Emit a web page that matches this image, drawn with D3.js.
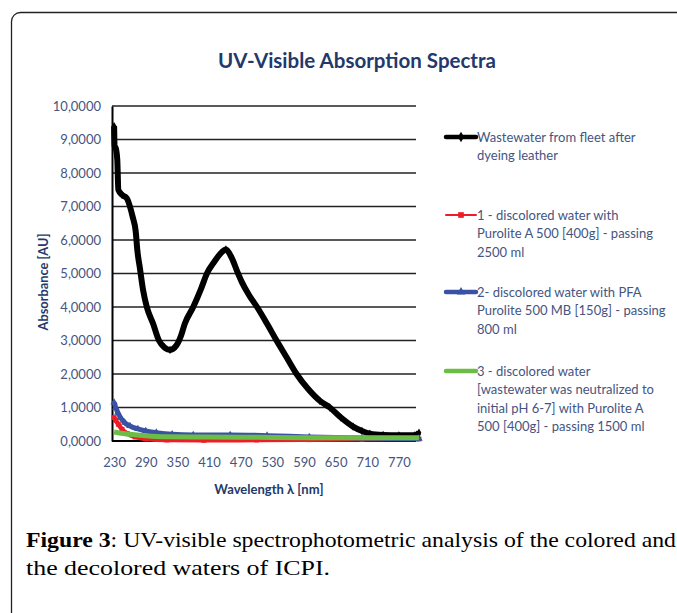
<!DOCTYPE html>
<html>
<head>
<meta charset="utf-8">
<script src="https://cdn.jsdelivr.net/npm/d3@7"></script>
<style>
  body { margin: 0; background: #fff; }
</style>
</head>
<body>
<div id="chart"></div>
<script>
// Chart data (wavelength in nm, absorbance in AU)
var blackNm  = [230, 231, 233, 236, 238, 245, 254, 260, 265, 271, 274, 279, 285, 292, 304, 315, 325, 336, 348, 357, 364, 380, 395, 406, 420, 432, 442, 452, 465, 472, 486, 501, 520, 538, 557, 576, 598, 620, 639, 660, 683, 700, 715, 740, 770, 800, 808];
var blackAbs = [9.40, 8.80, 8.75, 8.40, 7.50, 7.35, 7.25, 7.00, 6.70, 6.25, 5.70, 5.15, 4.50, 4.00, 3.50, 3.00, 2.80, 2.72, 2.85, 3.15, 3.50, 4.00, 4.55, 5.00, 5.35, 5.60, 5.72, 5.50, 5.00, 4.75, 4.35, 4.00, 3.50, 3.00, 2.50, 2.00, 1.55, 1.20, 1.00, 0.70, 0.43, 0.30, 0.22, 0.18, 0.17, 0.17, 0.25];

var redNm  = [230, 233, 238, 245, 255, 270, 290, 330, 400, 500, 600, 700, 808];
var redAbs = [0.70, 0.62, 0.50, 0.35, 0.22, 0.12, 0.06, 0.03, 0.02, 0.03, 0.04, 0.05, 0.06];

var blueNm  = [230, 233, 237, 242, 250, 260, 275, 290, 310, 340, 380, 450, 520, 600, 700, 808];
var blueAbs = [1.15, 1.00, 0.85, 0.70, 0.55, 0.45, 0.36, 0.30, 0.25, 0.20, 0.18, 0.18, 0.16, 0.12, 0.09, 0.07];

var greenNm  = [230, 240, 260, 290, 330, 400, 500, 600, 700, 808];
var greenAbs = [0.27, 0.24, 0.20, 0.16, 0.13, 0.12, 0.11, 0.10, 0.10, 0.10];

var xTicks = [230, 290, 350, 410, 470, 530, 590, 650, 710, 770];
var yTicks = [0, 1, 2, 3, 4, 5, 6, 7, 8, 9, 10];

var legendLines = [
  ["Wastewater from fleet after", "dyeing leather"],
  ["1 - discolored water with", "Purolite A 500 [400g] - passing", "2500 ml"],
  ["2- discolored water with PFA", "Purolite 500 MB [150g] - passing", "800 ml"],
  ["3 - discolored water", "[wastewater was neutralized to", "initial pH 6-7] with Purolite A", "500 [400g] - passing 1500 ml"]
];

var seriesColors = ["#000000", "#ee1c25", "#3a52a4", "#6cbd45"];
var labelColor = "#45557f";
var titleColor = "#22396a";
var sans = "Lato, 'Open Sans', sans-serif";

var svgWidth = 677;
var svgHeight = 613;

var svg = d3.select("#chart")
  .append("svg")
  .attr("width", svgWidth)
  .attr("height", svgHeight);

// Outer frame (rounded corner, runs off the right and bottom edge)
svg.append("rect")
  .attr("x", 11.5)
  .attr("y", 12.5)
  .attr("width", 700)
  .attr("height", 700)
  .attr("rx", 9)
  .attr("fill", "none")
  .attr("stroke", "#222")
  .attr("stroke-width", 1.3);

// Plot area
var plotLeft = 112, plotRight = 416, plotTop = 106, plotBottom = 441;

var xScale = d3.scaleLinear()
  .domain([226, 808])
  .range([plotLeft, plotLeft + (808 - 226) * 0.5274]);

var yScale = d3.scaleLinear()
  .domain([0, 10])
  .range([plotBottom, plotTop]);

// Title
svg.append("text")
  .attr("x", 357)
  .attr("y", 68)
  .attr("text-anchor", "middle")
  .attr("font-family", sans)
  .attr("font-weight", "bold")
  .attr("font-size", 20.5)
  .attr("fill", titleColor)
  .text("UV-Visible Absorption Spectra");

// Horizontal gridlines
svg.append("g")
  .selectAll("line")
  .data(yTicks.slice(1))
  .enter()
  .append("line")
  .attr("x1", plotLeft)
  .attr("x2", plotRight)
  .attr("y1", d => yScale(d))
  .attr("y2", d => yScale(d))
  .attr("stroke", "#222")
  .attr("stroke-width", 1.4);

// Y axis
var yAxis = d3.axisLeft(yScale)
  .tickValues(yTicks)
  .tickSize(0)
  .tickPadding(11)
  .tickFormat(d => d3.format(".4f")(d).replace(".", ","));

svg.append("g")
  .attr("transform", `translate(${plotLeft},0)`)
  .call(yAxis)
  .call(g => g.select(".domain").attr("stroke", "#000").attr("stroke-width", 2))
  .selectAll("text")
  .attr("font-family", sans)
  .attr("font-size", 13)
  .attr("fill", labelColor);

// X axis
var xAxis = d3.axisBottom(xScale)
  .tickValues(xTicks)
  .tickSize(0)
  .tickPadding(17)
  .tickFormat(d3.format("d"));

svg.append("g")
  .attr("transform", `translate(0,${plotBottom})`)
  .call(xAxis)
  .call(g => g.select(".domain").attr("d", `M${plotLeft},0H${plotRight}`).attr("stroke", "#000").attr("stroke-width", 2))
  .selectAll("text")
  .attr("font-family", sans)
  .attr("font-size", 13)
  .attr("fill", labelColor);

// Axis titles
svg.append("text")
  .attr("transform", "translate(48,282) rotate(-90)")
  .attr("text-anchor", "middle")
  .attr("font-family", sans)
  .attr("font-weight", "bold")
  .attr("font-size", 12.8)
  .attr("fill", titleColor)
  .text("Absorbance [AU]");

svg.append("text")
  .attr("x", 269)
  .attr("y", 494)
  .attr("text-anchor", "middle")
  .attr("font-family", sans)
  .attr("font-weight", "bold")
  .attr("font-size", 13)
  .attr("fill", titleColor)
  .text("Wavelength λ [nm]");

// Build series and draw them
var series = [
  { nm: blackNm, abs: blackAbs, width: 6, symbol: d3.symbolDiamond, size: 20 },
  { nm: redNm, abs: redAbs, width: 4.5, symbol: d3.symbolSquare, size: 24 },
  { nm: blueNm, abs: blueAbs, width: 5, symbol: d3.symbolTriangle, size: 24 },
  { nm: greenNm, abs: greenAbs, width: 5, symbol: null, size: 0 }
];

var line = d3.line()
  .x(d => xScale(d[0]))
  .y(d => yScale(d[1]))
  .curve(d3.curveMonotoneX);

series.forEach(function(s, i) {
  var pts = s.nm.map((n, j) => [n, s.abs[j]]);
  svg.append("path")
    .datum(pts)
    .attr("d", line)
    .attr("fill", "none")
    .attr("stroke", seriesColors[i])
    .attr("stroke-width", s.width)
    .attr("stroke-linejoin", "round");

  if (s.symbol) {
    svg.append("g")
      .selectAll("path")
      .data(pts)
      .enter()
      .append("path")
      .attr("transform", d => `translate(${xScale(d[0])},${yScale(d[1])})`)
      .attr("d", d3.symbol().type(s.symbol).size(s.size))
      .attr("fill", seriesColors[i]);
  }
});

// Legend
var legendTop = [137, 215, 292, 371];
var legend = svg.append("g");

legendLines.forEach(function(lines, i) {
  var y = legendTop[i];
  legend.append("line")
    .attr("x1", 446)
    .attr("x2", 476)
    .attr("y1", y)
    .attr("y2", y)
    .attr("stroke", seriesColors[i])
    .attr("stroke-width", i === 1 ? 2 : 4.5)
    .attr("stroke-linecap", "round");
  if (series[i].symbol) {
    legend.append("path")
      .attr("transform", `translate(461,${y})`)
      .attr("d", d3.symbol().type(series[i].symbol).size(32))
      .attr("fill", seriesColors[i]);
  }
  lines.forEach(function(t, k) {
    legend.append("text")
      .attr("x", 477)
      .attr("y", y + 4.5 + k * 18.5)
      .attr("font-family", sans)
      .attr("font-size", 13)
      .attr("fill", labelColor)
      .text(t);
  });
});

// Figure caption
var captionFont = "'Liberation Serif', 'DejaVu Serif', serif";

var cap1 = svg.append("text")
  .attr("x", 26)
  .attr("y", 547)
  .attr("font-family", captionFont)
  .attr("font-size", 22)
  .attr("fill", "#000")
  .attr("textLength", 650)
  .attr("lengthAdjust", "spacingAndGlyphs");
cap1.append("tspan")
  .attr("font-weight", "bold")
  .text("Figure 3");
cap1.append("tspan")
  .text(": UV-visible spectrophotometric analysis of the colored and");

svg.append("text")
  .attr("x", 26)
  .attr("y", 575)
  .attr("font-family", captionFont)
  .attr("font-size", 22)
  .attr("fill", "#000")
  .attr("textLength", 304)
  .attr("lengthAdjust", "spacingAndGlyphs")
  .text("the decolored waters of ICPI.");
</script>
</body>
</html>
